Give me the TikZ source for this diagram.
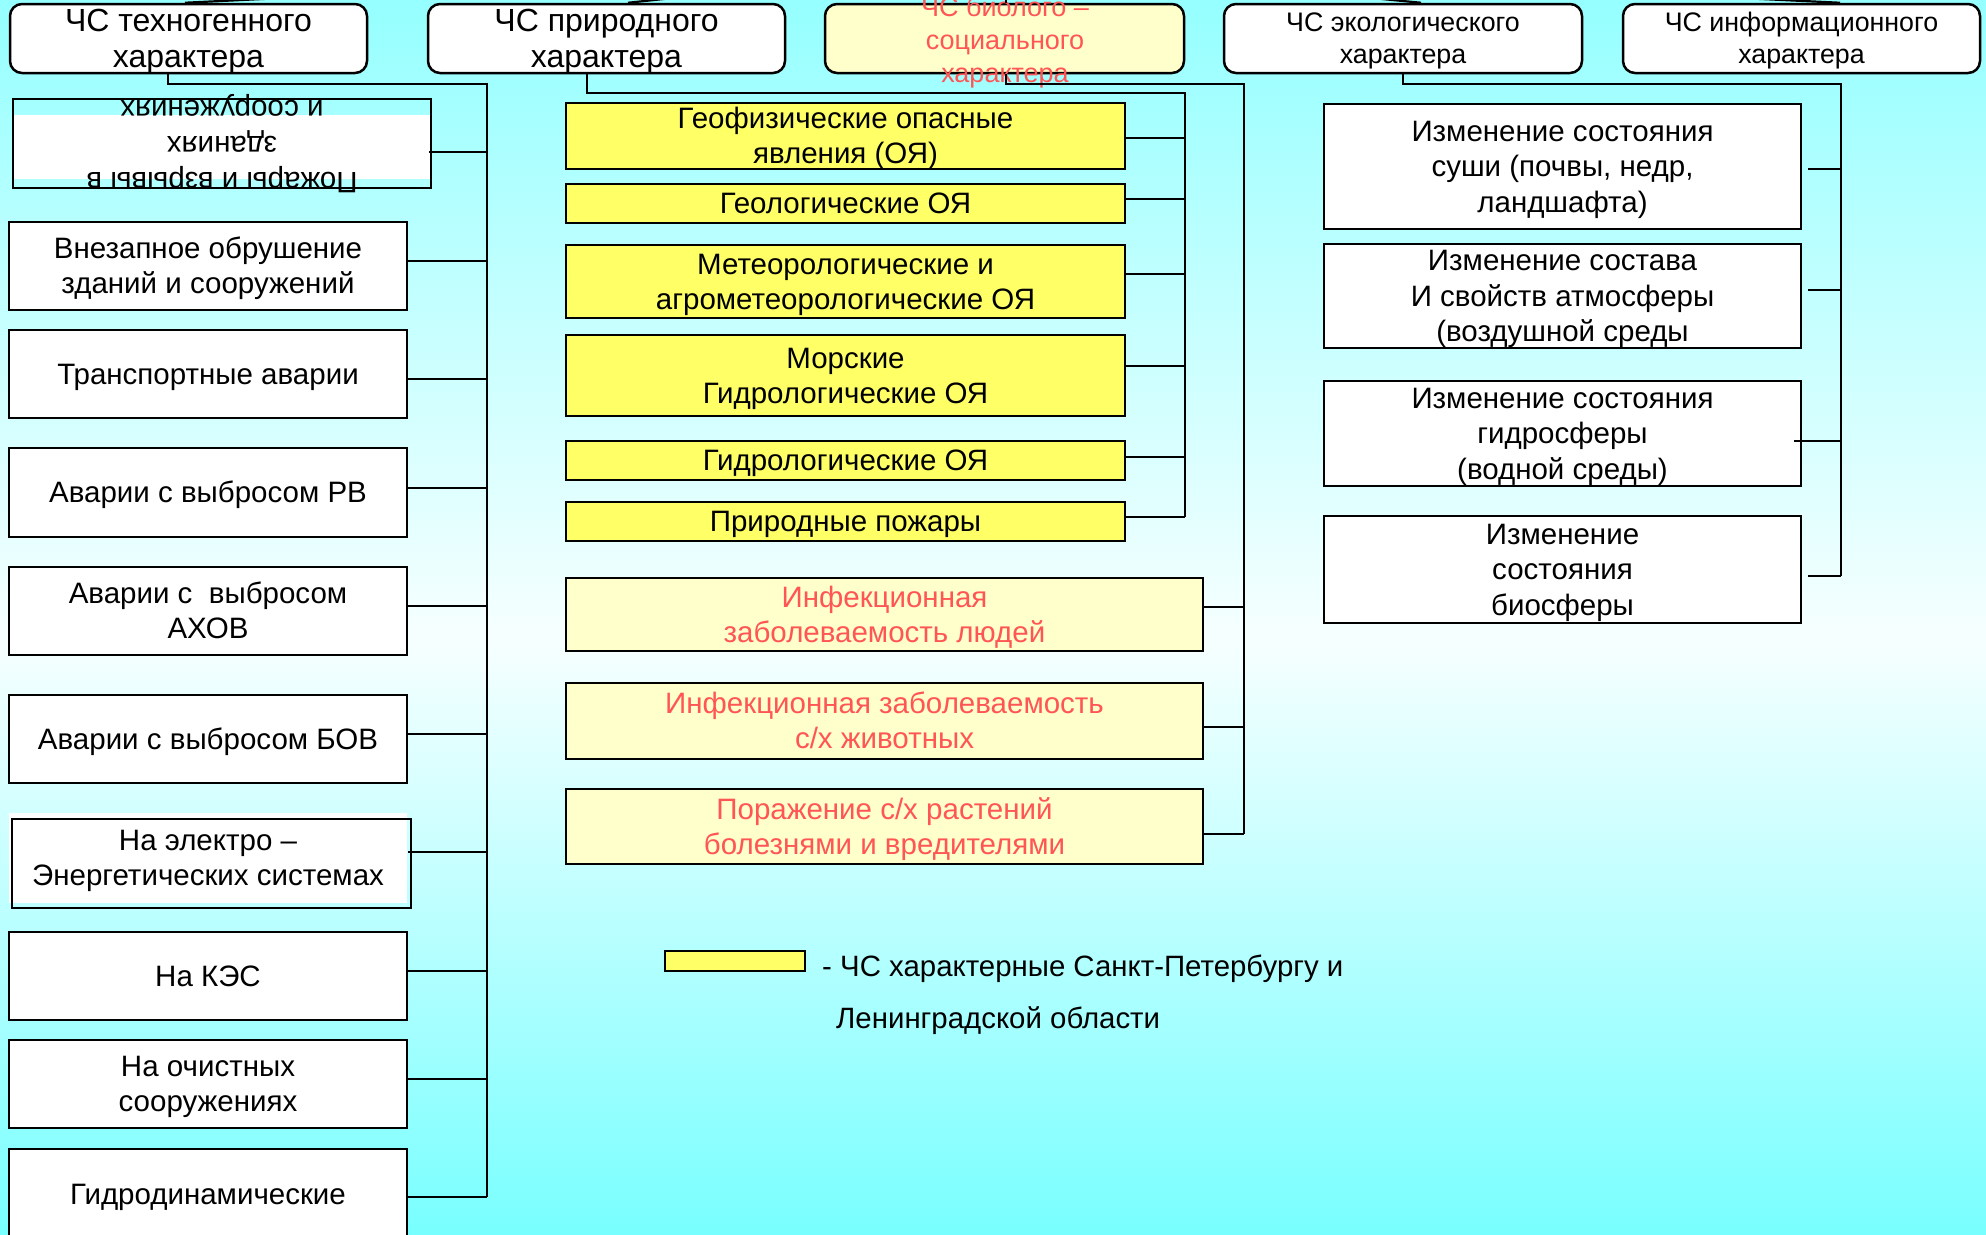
\documentclass[tikz,border=0pt]{standalone}
\usepackage{fontspec}
\setmainfont{Liberation Sans}
\definecolor{bgtop}{RGB}{150,255,255}
\definecolor{bgmid}{RGB}{246,255,255}
\definecolor{bgbot}{RGB}{120,255,255}
\definecolor{yel}{RGB}{255,255,102}
\definecolor{lyel}{RGB}{255,255,204}
\definecolor{redt}{RGB}{255,85,85}
\newcommand\fsmain{\fontsize{29.5}{35}\selectfont}
\newcommand\fseco{\fontsize{29.5}{35.5}\selectfont}
\newcommand\fstop{\fontsize{32}{36.8}\selectfont}
\newcommand\fstopsm{\fontsize{26.8}{31.7}\selectfont}
\newcommand\fsbio{\fontsize{27}{33}\selectfont}
\newcommand\fsfire{\fontsize{29.5}{36}\selectfont}
\newcommand\fsleg{\fontsize{29.4}{35}\selectfont}
% strut with the font's full ascent and descent
\newcommand\tup{\rule[-0.212em]{0pt}{1.117em}}
\newcommand\hlink[4]{\path ([xshift=#2,yshift=#3]#1.east) coordinate (#1-r); \draw[conn] (#1-r) -- (#1-r -| #4);}
\tikzset{
  conn/.style={draw=black, line width=2.2pt},
  boxbase/.style={draw=black, line width=2.5pt, inner xsep=0pt, inner ysep=-1.5pt, align=center},
  topbox/.style={boxbase, rounded corners=12pt, fill=white, minimum width=357pt, minimum height=69pt, inner ysep=-2.5pt, font=\fstop},
  leaf/.style={boxbase, fill=white, minimum width=398pt, font=\fsmain},
  natbox/.style={boxbase, fill=yel, minimum width=559pt, font=\fsmain},
  biobox/.style={boxbase, fill=lyel, text=redt, minimum width=637pt, font=\fsmain},
  ecobox/.style={boxbase, fill=white, minimum width=477pt, font=\fseco},
  txt/.style={inner sep=0pt, align=center, font=\fsmain},
}
\begin{document}
\begin{tikzpicture}[x=1pt,y=-1pt]
\useasboundingbox (0,0) rectangle (1986,1234);
\clip (0,0) rectangle (1986,1234);
% background gradient: cyan - almost white - cyan
\foreach \i in {0,...,79} {
  \pgfmathsetmacro\p{100*\i/79}
  \fill[bgmid!\p!bgtop] (0,8*\i) rectangle (1986,8*\i+8.6);
}
\foreach \i in {0,...,74} {
  \pgfmathsetmacro\p{100*\i/74}
  \fill[bgbot!\p!bgmid] (0,640+8*\i) rectangle (1986,648.6+8*\i);
}

% top boxes
\node[topbox] (t1) at (188.5,38.5) {\tup ЧС техногенного\\характера\tup};
\node[topbox] (t2) at (606.5,38.5) {\tup ЧС природного\\характера\tup};
\node[topbox, fill=lyel, minimum width=359pt] (t3) at (1004.5,38.5) {};
\node[txt, font=\fsbio, text=redt] (t3txt) at (1005,42.5) {ЧС биолого –\\социального\\характера};
\node[topbox, font=\fstopsm, minimum width=358pt] (t4) at (1403,38.5) {\tup ЧС экологического\\характера\tup};
\node[topbox, font=\fstopsm] (t5) at (1801.5,38.5) {\tup ЧС информационного\\характера\tup};

% lines to the parent above the picture
\coordinate (par) at (1006,-37);
\draw[conn] ([xshift=-3.5pt]t1.north) -- (par);
\draw[conn] ([xshift=21.5pt]t2.north) -- (par);
\draw[conn] ([xshift=1.5pt]t3.north) -- (par);
\draw[conn] ([xshift=18pt]t4.north) -- (par);
\draw[conn] ([xshift=38.5pt]t5.north) -- (par);

% ---- left column (technogenic)
\fill[white] (13,115) rectangle (431,179);
\node[boxbase, minimum width=418pt, minimum height=89pt] (fire) at (222,143.5) {};
\node[txt, font=\fsfire, rotate=180] (firetxt) at (222,144) {Пожары и взрывы в\\зданиях\\и сооружениях};
\node[leaf, minimum height=88pt] (vnez) at (208,266) {\tup Внезапное обрушение\\зданий и сооружений\tup};
\node[leaf, minimum height=88pt] (trans) at (208,374) {\tup Транспортные аварии};
\node[leaf, minimum height=89pt] (rv) at (208,492.5) {\tup Аварии с выбросом РВ};
\node[leaf, minimum height=88pt] (axov) at (208,611) {\tup Аварии с\ \ выбросом\\АХОВ\tup};
\node[leaf, minimum height=88pt] (bov) at (208,739) {\tup Аварии с выбросом БОВ};
\fill[white] (9,813) rectangle (407,903);
\node[boxbase, minimum width=399pt, minimum height=89pt] (electro) at (211.5,863.5) {};
\node[txt] (electrotxt) at (208,861) {На электро –\\Энергетических системах};
\node[leaf, minimum height=88pt] (kes) at (208,976) {\tup На КЭС};
\node[leaf, minimum height=88pt] (ochist) at (208,1084) {\tup На очистных\\сооружениях\tup};
\node[leaf, minimum height=111pt] (gidrod) at (208,1204.5) {};
\node[txt] (gidrodtxt) at (208,1197) {Гидродинамические};

\coordinate (lbt) at (487,84);
\coordinate (lbb) at (487,1197);
\draw[conn] ([xshift=-20.5pt]t1.south) |- (lbt) -- (lbb);
\hlink{fire}{-3pt}{-8.5pt}{lbt}
\hlink{vnez}{0pt}{5pt}{lbt}
\hlink{trans}{0pt}{-5pt}{lbt}
\hlink{rv}{0pt}{4.5pt}{lbt}
\hlink{axov}{0pt}{5pt}{lbt}
\hlink{bov}{0pt}{5pt}{lbt}
\hlink{electro}{-4pt}{11.5pt}{lbt}
\hlink{kes}{0pt}{5pt}{lbt}
\hlink{ochist}{0pt}{5pt}{lbt}
\hlink{gidrod}{0pt}{7.5pt}{lbt}

% ---- natural column
\node[natbox, minimum height=66pt] (geof) at (845.5,136) {\tup Геофизические опасные\\явления (ОЯ)\tup};
\node[natbox, minimum height=39pt] (geol) at (845.5,203.5) {\tup Геологические ОЯ};
\node[natbox, minimum height=73pt] (meteo) at (845.5,281.5) {\tup Метеорологические и\\агрометеорологические ОЯ\tup};
\node[natbox, minimum height=81pt] (morsk) at (845.5,375.5) {\tup Морские\\Гидрологические ОЯ\tup};
\node[natbox, minimum height=39pt] (gidrol) at (845.5,460.5) {\tup Гидрологические ОЯ};
\node[natbox, minimum height=39pt] (pozh) at (845.5,521.5) {\tup Природные пожары};

\coordinate (nbt) at (1185,93);
\coordinate (nbb) at (1185,517);
\draw[conn] ([xshift=-19.5pt]t2.south) |- (nbt) -- (nbb);
\hlink{geof}{0pt}{-2pt}{nbt}
\hlink{geol}{0pt}{4.5pt}{nbt}
\hlink{meteo}{0pt}{7.5pt}{nbt}
\hlink{morsk}{0pt}{9.5pt}{nbt}
\hlink{gidrol}{0pt}{3.5pt}{nbt}
\hlink{pozh}{0pt}{4.5pt}{nbt}

% ---- bio-social column
\node[biobox, minimum height=73pt] (b1) at (884.5,614.5) {\tup Инфекционная\\заболеваемость людей\tup};
\node[biobox, minimum height=76pt] (b2) at (884.5,721) {\tup Инфекционная заболеваемость\\с/х животных\tup};
\node[biobox, minimum height=75pt] (b3) at (884.5,826.5) {\tup Поражение с/х растений\\болезнями и вредителями\tup};

\coordinate (bbt) at (1244,84);
\coordinate (bbb) at (1244,834);
\draw[conn] ([xshift=1.5pt]t3.south) |- (bbt) -- (bbb);
\hlink{b1}{0pt}{7.5pt}{bbt}
\hlink{b2}{0pt}{-6pt}{bbt}
\hlink{b3}{0pt}{-7.5pt}{bbt}

% ---- ecological column
\node[ecobox, minimum height=125pt] (e1) at (1562.5,166.5) {\tup Изменение состояния\\суши (почвы, недр,\\ландшафта)\tup};
\node[ecobox, minimum height=104pt] (e2) at (1562.5,296) {\tup Изменение состава\\И свойств атмосферы\\(воздушной среды\tup};
\node[ecobox, minimum height=105pt] (e3) at (1562.5,433.5) {\tup Изменение состояния\\гидросферы\\(водной среды)\tup};
\node[ecobox, minimum height=107pt] (e4) at (1562.5,569.5) {\tup Изменение\\состояния\\биосферы\tup};

\coordinate (ebt) at (1841,84);
\coordinate (ebb) at (1841,576);
\draw[conn] (t4.south) |- (ebt) -- (ebb);
\hlink{e1}{6pt}{-2.5pt}{ebt}
\hlink{e2}{6pt}{6pt}{ebt}
\hlink{e3}{-8pt}{-7.5pt}{ebt}
\hlink{e4}{6pt}{-6.5pt}{ebt}

% ---- legend
\node[draw=black, line width=2pt, inner sep=0pt, fill=yel, minimum width=140pt, minimum height=20pt] (legend) at (735,961) {};
\node[txt, font=\fsleg, anchor=west] (legtxt1) at (822,968.5) {- ЧС характерные Санкт-Петербургу и};
\node[txt, font=\fsleg, anchor=west] (legtxt2) at (836,1020.5) {Ленинградской области};
\end{tikzpicture}
\end{document}
